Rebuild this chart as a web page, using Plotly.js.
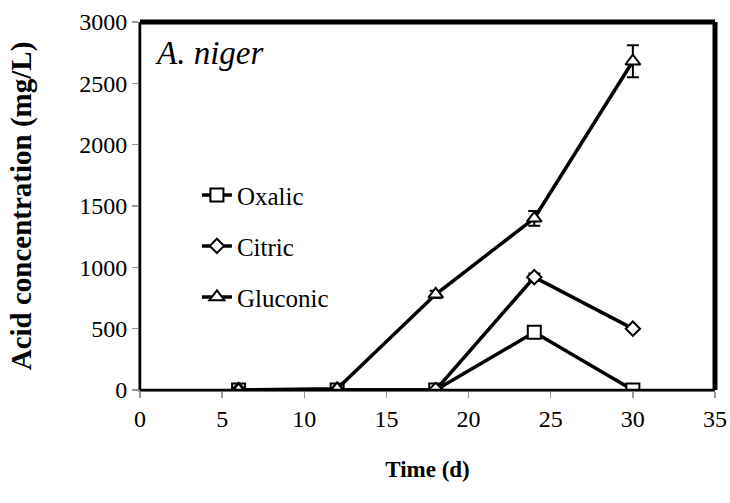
<!DOCTYPE html>
<html>
<head>
<meta charset="utf-8">
<script src="https://cdn.plot.ly/plotly-3.0.1.min.js"></script>
<style>html,body{margin:0;padding:0;background:#fff;}#chart{width:730px;height:503px;}</style>
</head>
<body>
<div id="chart"></div>
<script>
const days = [6, 12, 18, 24, 30];
const oxalic = [0, 0, 0, 470, 0];
const oxalicErr = [0, 0, 0, 15, 0];
const citric = [0, 0, 0, 920, 500];
const citricErr = [0, 0, 0, 30, 10];
const gluconic = [0, 10, 780, 1400, 2680];
const gluconicErr = [0, 5, 30, 60, 130];
const xTicks = [0, 5, 10, 15, 20, 25, 30, 35];
const yTicks = [0, 500, 1000, 1500, 2000, 2500, 3000];

const font = 'Liberation Serif, Times New Roman, serif';

function tr(name, y, err, symbol, size, group) {
  return {
    x: days, y: y, name: name, type: 'scatter', mode: 'lines+markers',
    legendgroup: group,
    line: {color: '#000', width: 3.5},
    marker: {symbol: symbol, size: size, color: '#fff', line: {color: '#000', width: 2}},
    error_y: {type: 'data', array: err, visible: true, color: '#000', thickness: 2, width: 6}
  };
}

const data = [
  tr('Oxalic', oxalic, oxalicErr, 'square', 13, 'a'),
  tr('Citric', citric, citricErr, 'diamond', 11, 'b'),
  tr('Gluconic', gluconic, gluconicErr, 'triangle-up', 13, 'c')
];

const layout = {
  width: 730, height: 503,
  margin: {l: 140, r: 15, t: 22, b: 113},
  paper_bgcolor: '#fff', plot_bgcolor: '#fff',
  font: {family: font, size: 24, color: '#000'},
  showlegend: true,
  legend: {x: 0.099, y: 0.592, xanchor: 'left', yanchor: 'top', bgcolor: 'rgba(0,0,0,0)',
           font: {family: font, size: 25, color: '#000'}, tracegroupgap: 15.5, itemwidth: 30},
  xaxis: {
    range: [0, 35], tickvals: xTicks, ticktext: xTicks.map(String),
    showgrid: false, zeroline: false, showline: true, linecolor: '#999', linewidth: 2,
    ticks: 'outside', ticklen: 6, tickcolor: '#999', tickwidth: 1.5,
    tickfont: {family: font, size: 24, color: '#000'},
    title: {text: '<b>Time (d)</b>', font: {family: font, size: 23, color: '#000'}, standoff: 30}
  },
  yaxis: {
    range: [0, 3000], tickvals: yTicks, ticktext: yTicks.map(String),
    showgrid: false, zeroline: false, showline: true, linecolor: '#999', linewidth: 2,
    ticks: 'outside', ticklen: 6, tickcolor: '#999', tickwidth: 1.5,
    tickfont: {family: font, size: 24, color: '#000'},
    title: {text: '<b>Acid concentration (mg/L)</b>', font: {family: font, size: 29, color: '#000'}, standoff: 39}
  },
  shapes: [
    {type: 'line', xref: 'paper', yref: 'paper', x0: 0, x1: 1, y0: 1, y1: 1, line: {color: '#000', width: 5}},
    {type: 'line', xref: 'paper', yref: 'paper', x0: 1, x1: 1, y0: 0, y1: 1, line: {color: '#000', width: 5}},
    {type: 'line', xref: 'paper', yref: 'paper', x0: 0, x1: 0, y0: 0, y1: 1, xsizemode: 'pixel', xanchor: 0, line: {color: '#000', width: 2.5}},
    {type: 'line', xref: 'paper', yref: 'paper', x0: 0, x1: 1, y0: 0, y1: 0, ysizemode: 'pixel', yanchor: 0, line: {color: '#000', width: 2.5}}
  ],
  annotations: [
    {text: '<i>A. niger</i>', xref: 'paper', yref: 'paper', x: 0.022, y: 0.97, xanchor: 'left', yanchor: 'top',
     showarrow: false, font: {family: font, size: 33, color: '#000'}}
  ]
};

Plotly.newPlot('chart', data, layout, {displayModeBar: false, staticPlot: true});
</script>
</body>
</html>
